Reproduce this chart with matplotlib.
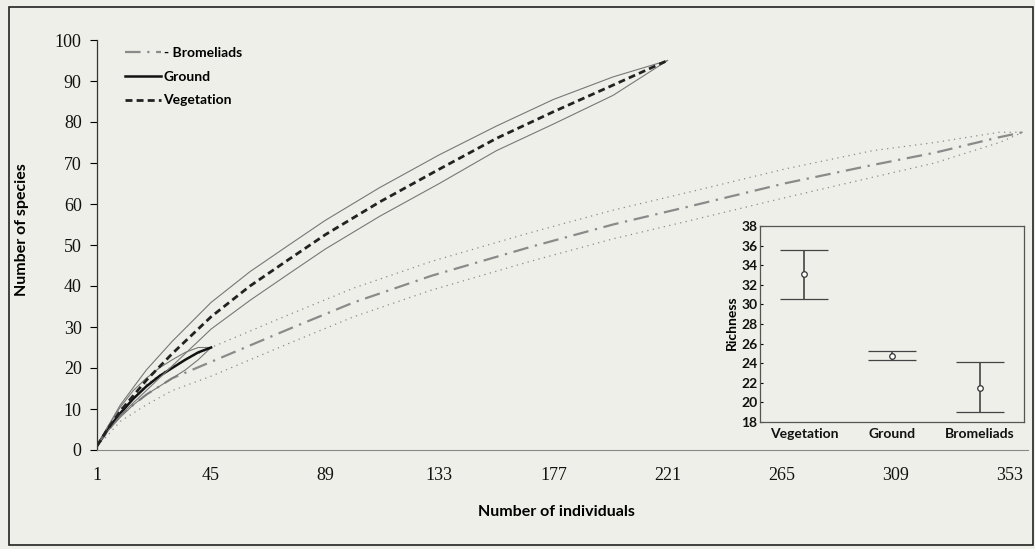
import matplotlib.pyplot as plt
from matplotlib.patches import Rectangle

bg = '#efefe9'

# rarefaction curves
veg_x = [1, 5, 10, 20, 30, 45, 60, 75, 89, 110, 133, 155, 177, 200, 221]
veg_mean = [1, 5, 9.5, 17, 23.5, 32.5, 40, 46.5, 52.5, 60.5, 68.5, 76, 82.5, 89, 95]
veg_upper = [1, 5.5, 11, 19.5, 26.5, 36, 43.5, 50, 56, 64, 72, 79, 85.5, 91, 95]
veg_lower = [1, 4.5, 8.5, 14.5, 20.5, 29.5, 36.5, 43, 49, 57, 65, 73, 79.5, 86.5, 95]

ground_x = [1, 5, 10, 15, 20, 25, 30, 35, 40, 45]
ground_mean = [1, 5, 9, 12.5, 15.5, 18, 20, 22, 23.8, 25]
ground_upper = [1, 5.5, 10.5, 14.5, 17.5, 20, 22, 23.8, 25, 25]
ground_lower = [1, 4.5, 8, 11, 13.5, 15.5, 17.5, 19.5, 22, 25]

brom_x = [1, 5, 10, 20, 30, 45, 60, 75, 100, 130, 168, 200, 230, 266, 300, 324, 349, 358]
brom_mean = [1, 4.5, 8.5, 13.5, 17.5, 21.5, 25.5, 29.5, 36, 42.5, 49.5, 55, 59.5, 65, 69.5, 72.5, 76.3, 77.5]
brom_upper = [1, 5.5, 10, 16, 20.5, 25, 29, 33, 39.5, 46, 53, 58.5, 63, 68.5, 73, 75, 77.5, 77.5]
brom_lower = [1, 3.5, 7, 11, 14.5, 18, 22, 26, 32.5, 39, 46, 51.5, 56, 61.5, 66.5, 70, 75, 77.5]

x_ticks = [1, 45, 89, 133, 177, 221, 265, 309, 353]

# inset: mean richness with confidence interval
habitats = ['Vegetation', 'Ground', 'Bromeliads']
richness = [33.1, 24.75, 21.5]
rich_low = [30.6, 24.3, 19.0]
rich_high = [35.6, 25.2, 24.1]

fig = plt.figure(figsize=(10.35, 5.49), dpi=100, facecolor=bg)
ax = fig.add_axes([97/1035, 1-450/549, (1028-97)/1035, 410/549])
ax.set_facecolor(bg)

gray = '#8a8a8a'
# bromeliads
ax.plot(brom_x, brom_upper, color=gray, lw=0.9, linestyle=(0, (1, 3.5)))
ax.plot(brom_x, brom_lower, color=gray, lw=0.9, linestyle=(0, (1, 3.5)))
ax.plot(brom_x, brom_mean, color=gray, lw=1.6, linestyle=(0, (7, 3, 1, 3)),
        label='- Bromeliads')
# ground
ax.plot(ground_x, ground_upper, color='#777777', lw=0.8)
ax.plot(ground_x, ground_lower, color='#777777', lw=0.8)
ax.plot(ground_x, ground_mean, color='#111111', lw=1.8, label='Ground')
# vegetation
ax.plot(veg_x, veg_upper, color='#777777', lw=0.8)
ax.plot(veg_x, veg_lower, color='#777777', lw=0.8)
ax.plot(veg_x, veg_mean, color='#222222', lw=2, linestyle=(0, (2.5, 1.5)),
        label='Vegetation')

ax.set_xlim(1, 360)
ax.set_ylim(0, 100)
ax.set_xticks(x_ticks)
ax.set_yticks(range(0, 101, 10))
ax.tick_params(axis='x', length=0, pad=12)
ax.tick_params(axis='y', length=5, width=0.8, direction='out', pad=6)
for lab in ax.get_xticklabels() + ax.get_yticklabels():
    lab.set_family('Liberation Serif')
    lab.set_fontsize(13)
    lab.set_color('#111111')
ax.spines['top'].set_visible(False)
ax.spines['right'].set_visible(False)
ax.spines['left'].set_color('#333333')
ax.spines['left'].set_linewidth(0.9)
ax.spines['bottom'].set_color('#888888')
ax.spines['bottom'].set_linewidth(0.8)
ax.spines['bottom'].set_linestyle((0, (4, 1)))

leg = ax.legend(loc='upper left', bbox_to_anchor=(0.017, 1.014), frameon=False,
                handlelength=2.6, handletextpad=0.15, labelspacing=0.85,
                prop={'family': 'Lato', 'weight': 'bold', 'size': 10})

fig.text(22/1035, 1-230/549, 'Number of species', rotation=90, ha='center',
         va='center', family='Lato', weight='bold', fontsize=11.5)
fig.text(556/1035, 1-512/549, 'Number of individuals', ha='center',
         va='center', family='Lato', weight='bold', fontsize=11.5)

# inset
ax2 = fig.add_axes([760/1035, 1-422/549, 264/1035, 196/549])
ax2.set_facecolor(bg)
pos = list(range(len(habitats)))
err = [[m - lo for m, lo in zip(richness, rich_low)],
       [hi - m for m, hi in zip(richness, rich_high)]]
ax2.errorbar(pos, richness, yerr=err, fmt='o', mfc='white', mec='#333333',
             ms=4, mew=0.9, ecolor='#444444', elinewidth=1.2, capsize=17,
             capthick=0.9)
ax2.set_xlim(-0.5, 2.5)
ax2.set_ylim(18, 38)
ax2.set_yticks(range(18, 39, 2))
ax2.set_xticks(pos)
ax2.set_xticklabels(habitats)
ax2.tick_params(axis='x', length=0, pad=4)
ax2.tick_params(axis='y', length=2, direction='in', pad=2)
for lab in ax2.get_xticklabels() + ax2.get_yticklabels():
    lab.set_family('Lato')
    lab.set_weight('bold')
    lab.set_fontsize(10)
    lab.set_color('#111111')
for sp in ax2.spines.values():
    sp.set_color('#555555')
    sp.set_linewidth(0.9)
fig.text(732/1035, 1-323/549, 'Richness', rotation=90, ha='center',
         va='center', family='Lato', weight='bold', fontsize=10)

# frame around the whole figure
fig.patches.append(Rectangle((9/1035, 4/549), 1024/1035, 538/549,
                             transform=fig.transFigure, fill=False,
                             ec='#222222', lw=1.2))

fig.savefig('out.png', dpi=100, facecolor=bg)
